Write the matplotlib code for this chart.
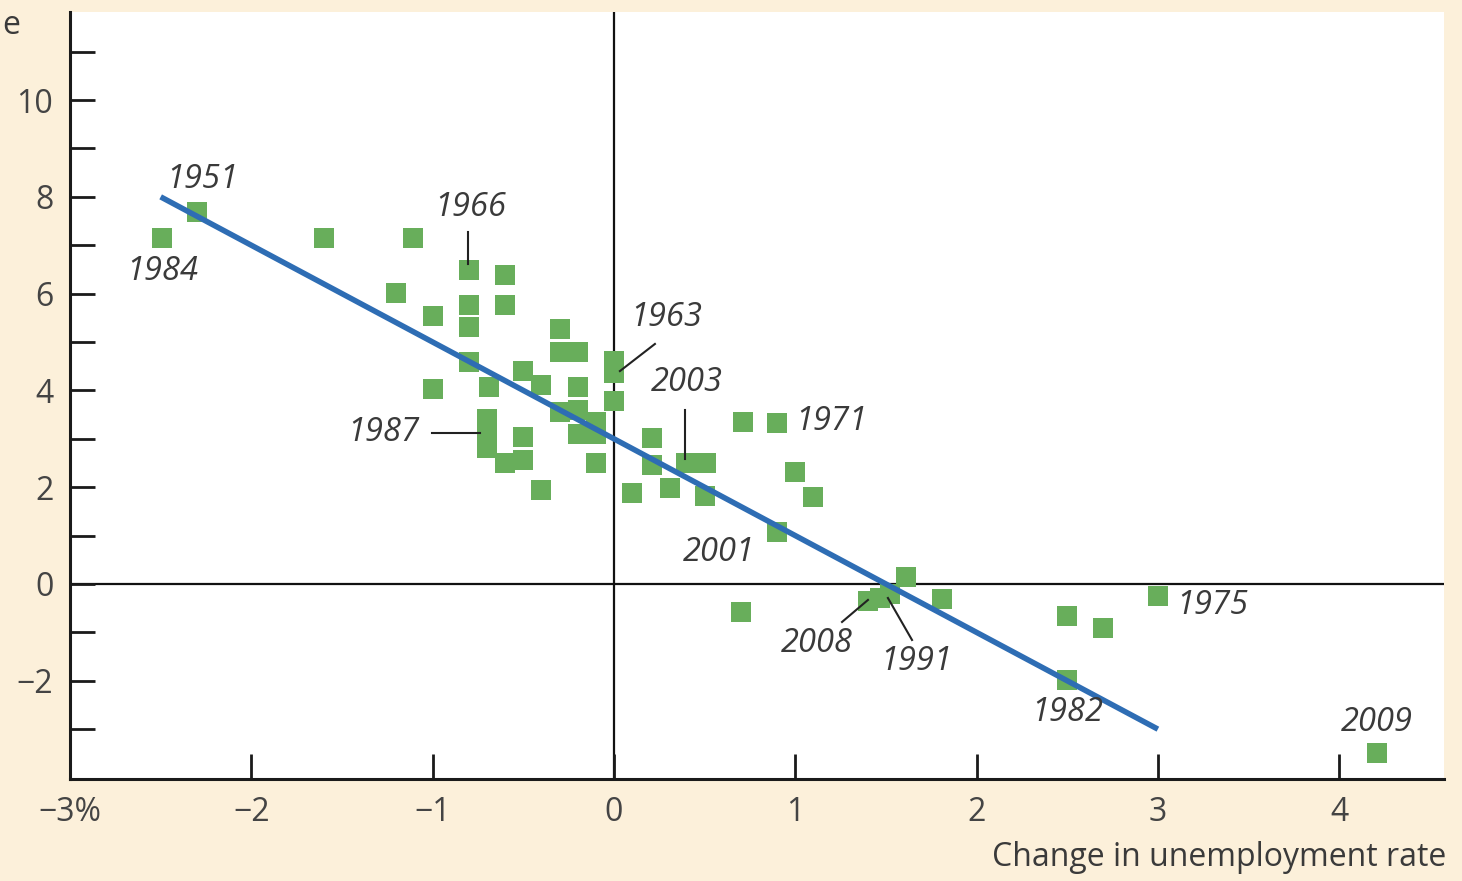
import matplotlib
matplotlib.use("Agg")
import matplotlib.pyplot as plt
from matplotlib.ticker import FixedLocator

# ---------------- data ----------------
unemp_change = [-2.49, -2.30, -1.60, -1.11, -1.20, -1.00, -1.00, -0.80, -0.80, -0.80,
                -0.80, -0.60, -0.60, -0.30, -0.30, -0.20, -0.50, -0.40, -0.69, -0.20,
                0.00, 0.00, 0.00, -0.70, -0.70, -0.70, -0.60, -0.50, -0.50, -0.40,
                -0.30, -0.20, -0.10, -0.20, -0.10, -0.10, 0.10, 0.21, 0.21, 0.31,
                0.40, 0.51, 0.50, 0.71, 0.90, 1.00, 1.10, 0.90, 1.61, 1.81,
                1.40, 1.47, 1.52, 0.70, 3.00, 2.50, 2.70, 2.50, 4.21]
gdp_growth = [7.15, 7.69, 7.15, 7.15, 6.01, 5.54, 4.03, 6.49, 5.76, 5.31,
              4.58, 6.38, 5.76, 5.27, 4.79, 4.79, 4.40, 4.11, 4.07, 4.07,
              4.60, 4.35, 3.78, 3.40, 3.10, 2.80, 2.50, 3.04, 2.56, 1.94,
              3.55, 3.60, 3.35, 3.10, 3.10, 2.50, 1.88, 3.01, 2.46, 1.98,
              2.50, 2.50, 1.82, 3.35, 3.33, 2.31, 1.80, 1.07, 0.15, -0.30,
              -0.35, -0.29, -0.20, -0.58, -0.25, -0.66, -0.90, -1.98, -3.49]

fit_x = [-2.5, 3.0]
fit_y = [8.0, -3.0]

x_ticks = [-3, -2, -1, 0, 1, 2, 3, 4]
x_ticklabels = ["\u22123%", "\u22122", "\u22121", "0", "1", "2", "3", "4"]
y_ticks = [-2, 0, 2, 4, 6, 8, 10]
y_ticklabels = ["\u22122", "0", "2", "4", "6", "8", "10"]
y_minor = [-3, -1, 1, 3, 5, 7, 9, 11]

year_labels = ["1951", "1984", "1966", "1963", "2003", "1987", "1971", "2001",
               "2008", "1991", "1975", "1982", "2009"]
label_pos = [(-2.27, 8.35), (-2.49, 6.45), (-0.79, 7.77), (0.29, 5.50), (0.40, 4.17),
             (-1.27, 3.14), (1.20, 3.35), (0.58, 0.66), (1.12, -1.22), (1.67, -1.61),
             (3.30, -0.45), (2.50, -2.66), (4.21, -2.87)]
# leader lines (start, end) for some labels
leaders = {
    "1966": ((-0.805, 7.27), (-0.805, 6.62)),
    "1963": ((0.226, 4.96), (0.033, 4.40)),
    "2003": ((0.392, 3.60), (0.392, 2.58)),
    "1987": ((-1.004, 3.12), (-0.739, 3.12)),
    "2008": ((1.258, -0.785), (1.401, -0.33)),
    "1991": ((1.644, -1.157), (1.511, -0.29)),
}

# ---------------- style ----------------
bg = "#fcf0da"
green = "#68ae5b"
blue = "#2e6db4"
txt = "#3a3a3a"
font = "Open Sans"

fig = plt.figure(figsize=(14.62, 8.81), dpi=100, facecolor=bg)
ax = fig.add_axes([70 / 1462, 1 - 779 / 881, (1444 - 70) / 1462, (779 - 12) / 881])
ax.set_facecolor("white")

ax.set_xlim(-3.0, 4.578)
ax.set_ylim(-4.03, 11.82)

ax.axhline(0, color="#111111", lw=1.6, zorder=1)
ax.axvline(0, color="#111111", lw=1.6, zorder=1)

ax.plot(unemp_change, gdp_growth, linestyle="none", marker="s", markersize=14,
        color=green, markeredgewidth=0, zorder=2)
ax.plot(fit_x, fit_y, color=blue, lw=4.0, solid_capstyle="butt", zorder=3)

for lab, (lx, ly) in zip(year_labels, label_pos):
    ax.text(lx, ly, lab, fontsize=23.5, style="italic", color=txt, ha="center", va="center",
            family=font, zorder=4)
    if lab in leaders:
        (x0, y0), (x1, y1) = leaders[lab]
        ax.plot([x0, x1], [y0, y1], color="#222222", lw=1.5, zorder=4)

for s in ["top", "right"]:
    ax.spines[s].set_visible(False)
for s in ["left", "bottom"]:
    ax.spines[s].set_linewidth(2.2)
    ax.spines[s].set_color("#1a1a1a")

ax.xaxis.set_major_locator(FixedLocator(x_ticks))
ax.set_xticklabels(x_ticklabels)
ax.yaxis.set_major_locator(FixedLocator(y_ticks))
ax.set_yticklabels(y_ticklabels)
ax.yaxis.set_minor_locator(FixedLocator(y_minor))

ax.tick_params(axis="both", which="both", direction="in", length=18, width=2.0,
               color="#1a1a1a", labelcolor="#444444", labelsize=23)
ax.tick_params(axis="x", pad=12)
ax.tick_params(axis="y", pad=12)
for t in ax.get_xticklabels() + ax.get_yticklabels():
    t.set_family(font)

fig.text(1446 / 1462, 1 - 858 / 881, "Change in unemployment rate", ha="right", va="center",
         fontsize=23, color="#3a3a3a", family=font)
fig.text(20 / 1462, 1 - 25 / 881, "e", ha="right", va="center", fontsize=23,
         color="#3a3a3a", family=font)

fig.savefig("out.png", dpi=100, facecolor=bg)
